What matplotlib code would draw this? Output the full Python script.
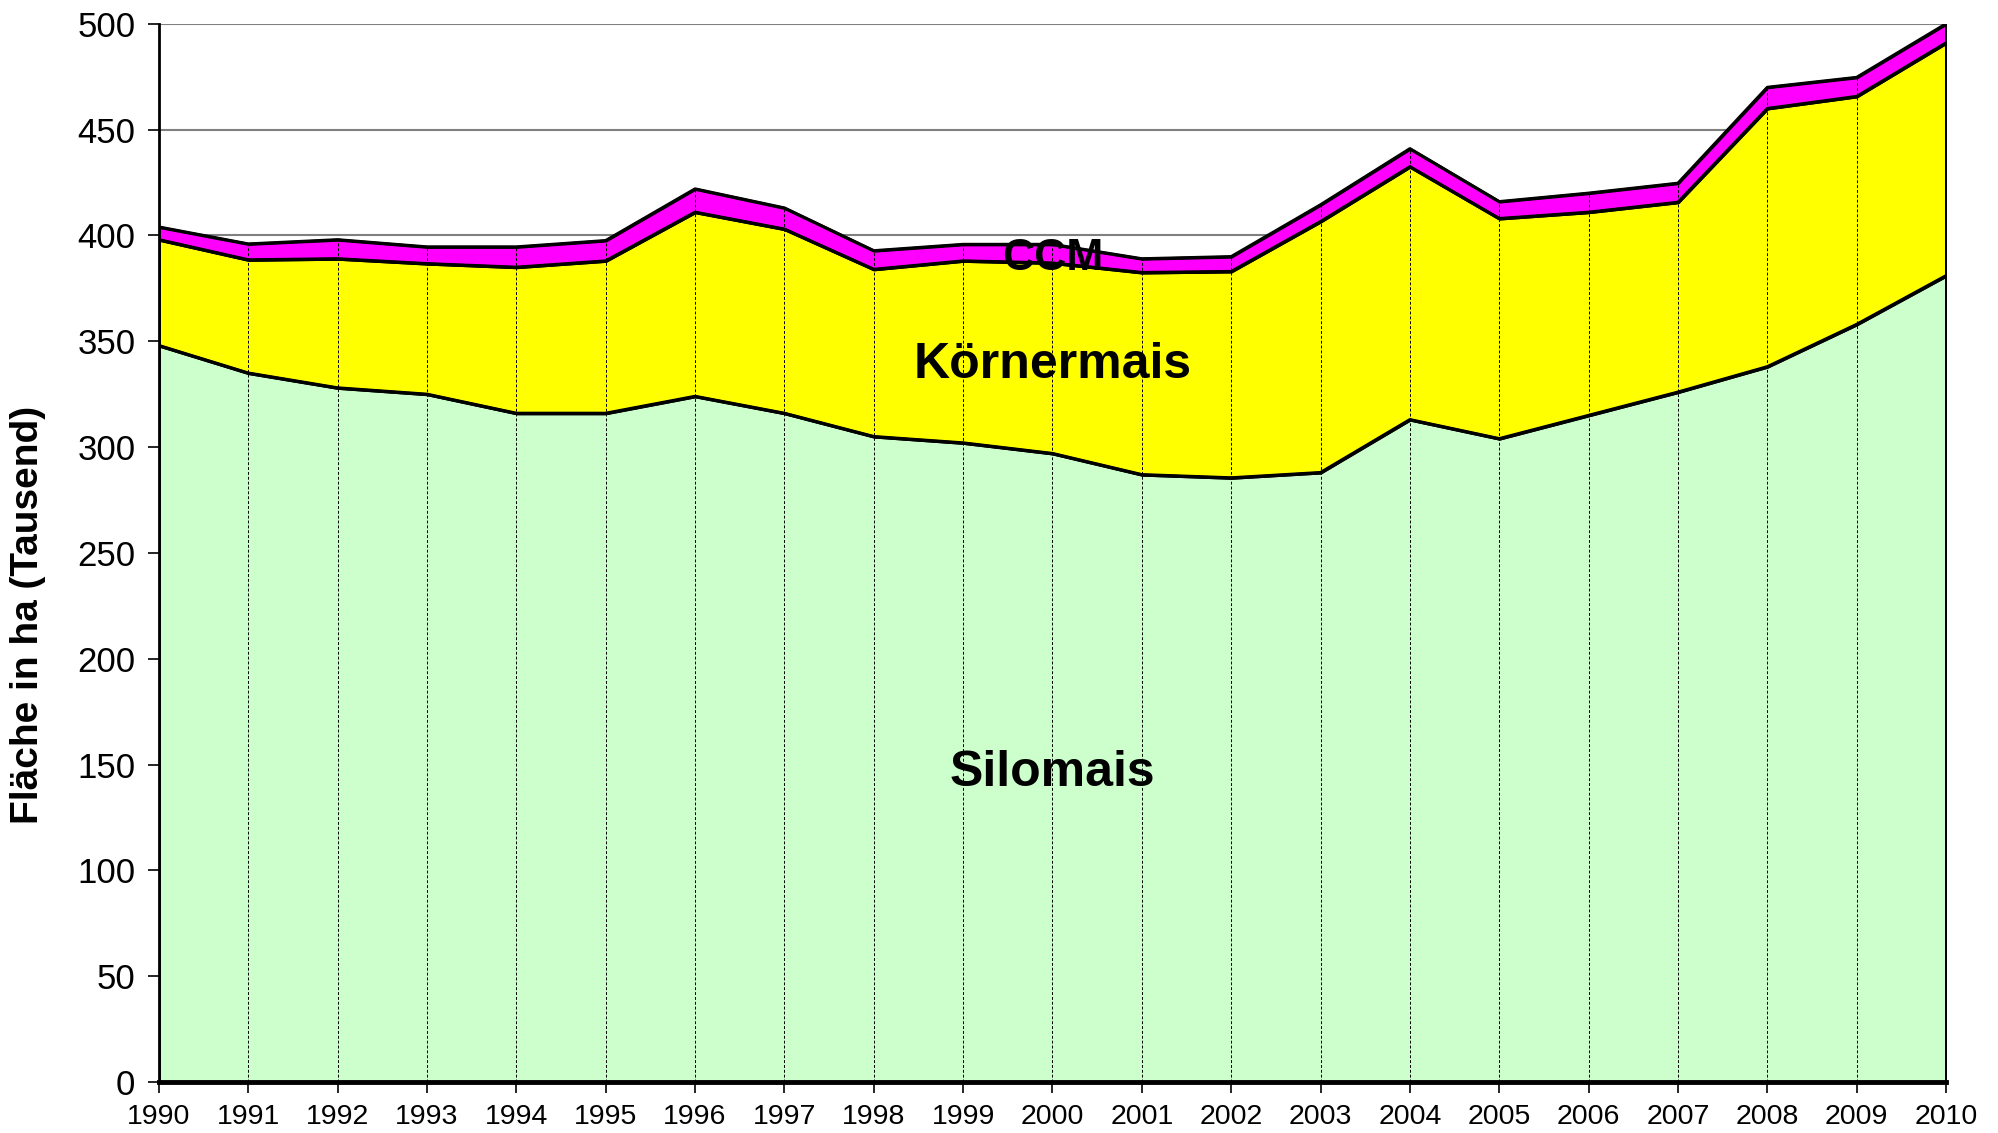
import matplotlib
matplotlib.use("Agg")
import matplotlib.pyplot as plt
import numpy as np

plt.rcParams['font.family'] = ['Liberation Sans', 'DejaVu Sans']

years = list(range(1990, 2011))
silomais = [348, 335, 328, 325, 316, 316, 324, 316, 305, 302, 297, 287, 285.5, 288, 313, 304, 315, 326, 338, 358, 381]
koernermais_top = [398, 388.5, 389, 386.7, 385, 388, 411, 403, 384, 388, 387, 382.5, 383, 406.6, 432.5, 408, 411, 415.7, 460, 465.7, 491]
total_top = [404, 396, 398, 394.6, 394.6, 397.6, 422, 413, 392.8, 395.8, 395.8, 389, 390, 414.5, 441, 416, 420, 424.7, 470, 474.7, 500]
koernermais = [k - s for k, s in zip(koernermais_top, silomais)]
ccm = [t - k for t, k in zip(total_top, koernermais_top)]

yticks = list(range(0, 501, 50))

fig = plt.figure(figsize=(19.99, 11.33), dpi=100)
ax = fig.add_axes([0.0795, 0.045, 0.894, 0.934])

x = np.array(years)
s = np.array(silomais)
k = s + np.array(koernermais)
t = k + np.array(ccm)

for yv in yticks[1:]:
    ax.axhline(yv, color='#808080', lw=1.5, zorder=0)

ax.fill_between(x, 0, s, facecolor='#CCFFCC', edgecolor='black', lw=2.2, zorder=2)
ax.fill_between(x, s, k, facecolor='#FFFF00', edgecolor='black', lw=2.2, zorder=2)
ax.fill_between(x, k, t, facecolor='#FF00FF', edgecolor='black', lw=2.2, zorder=2)
ax.plot(x, s, color='black', lw=2.2, zorder=4)
ax.plot(x, k, color='black', lw=2.2, zorder=4)
ax.plot(x, t, color='black', lw=2.2, zorder=4)
ax.vlines(x[1:-1], 0, t[1:-1], colors='black', linestyles=(0, (3, 2)), lw=0.7, zorder=3)

ax.set_xlim(1990, 2010)
ax.set_ylim(0, 500)
ax.set_xticks(years)
ax.set_xticklabels([str(y) for y in years], fontsize=20.5)
ax.set_yticks(yticks)
ax.set_yticklabels([str(v) for v in yticks], fontsize=25)
ax.tick_params(axis='both', direction='out', length=8, width=1.2, color='black')
ax.tick_params(axis='x', pad=8)
ax.tick_params(axis='y', pad=9)

ax.spines['top'].set_visible(False)
ax.spines['right'].set_visible(False)
ax.spines['left'].set_linewidth(2)
ax.spines['bottom'].set_linewidth(3.5)
ax.spines['bottom'].set_zorder(5)
ax.spines['left'].set_zorder(5)

ax.set_ylabel('Fläche in ha (Tausend)', fontsize=28, fontweight='bold')
ax.yaxis.set_label_coords(-0.063, 0.441)

ax.text(2000, 146, 'Silomais', fontsize=36, fontweight='bold', ha='center', va='center', zorder=6)
ax.text(2000, 339, 'Körnermais', fontsize=36, fontweight='bold', ha='center', va='center', zorder=6)
ax.text(2000, 389, 'CCM', fontsize=32, fontweight='bold', ha='center', va='center', zorder=6)

fig.savefig('out.png', dpi=100)
